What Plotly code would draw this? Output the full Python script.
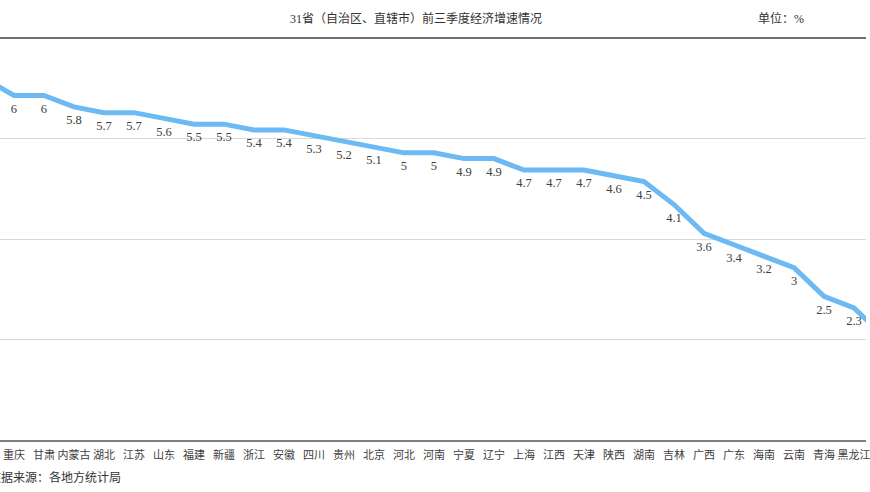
import plotly.graph_objects as go

provinces = ["西藏", "重庆", "甘肃", "内蒙古", "湖北", "江苏", "山东", "福建", "新疆", "浙江", "安徽",
             "四川", "贵州", "北京", "河北", "河南", "宁夏", "辽宁", "上海", "江西", "天津",
             "陕西", "湖南", "吉林", "广西", "广东", "海南", "云南", "青海", "黑龙江", "山西"]
growth = [6.3, 6.0, 6.0, 5.8, 5.7, 5.7, 5.6, 5.5, 5.5, 5.4, 5.4,
          5.3, 5.2, 5.1, 5.0, 5.0, 4.9, 4.9, 4.7, 4.7, 4.7,
          4.6, 4.5, 4.1, 3.6, 3.4, 3.2, 3.0, 2.5, 2.3, 1.8]
labels = [f"{v:g}" for v in growth]

title_text = "31省（自治区、直辖市）前三季度经济增速情况"
unit_text = "单位：%"
source_text = "数据来源：各地方统计局"

num_font = "Liberation Serif, Times New Roman, serif"
cjk_font = "Liberation Serif, Noto Sans CJK SC, serif"

fig = go.Figure()
fig.add_trace(go.Scatter(
    x=provinces, y=growth, mode="lines+markers+text",
    line=dict(color="#6cb9f3", width=5),
    marker=dict(size=11, color="rgba(0,0,0,0)"),
    text=labels, textposition="bottom center",
    textfont=dict(family=num_font, size=12.5, color="#404040"),
    cliponaxis=True, hoverinfo="skip", showlegend=False,
))

fig.update_layout(
    width=870, height=492,
    margin=dict(l=0, r=0, t=38, b=52),
    paper_bgcolor="white", plot_bgcolor="white",
    xaxis=dict(type="category", range=[0.535, 29.40], showgrid=False,
               showline=True, linecolor="#7f7f7f", linewidth=2,
               ticks="", ticklabelstandoff=4,
               tickfont=dict(family=cjk_font, size=11, color="#404040")),
    yaxis=dict(range=[0, 7], tickvals=[0, 1.75, 3.5, 5.25, 7], showticklabels=False,
               showgrid=True, gridcolor="#d9d9d9", gridwidth=1, zeroline=False,
               showline=False),
    shapes=[dict(type="line", xref="paper", yref="paper", x0=0, x1=1, y0=1, y1=1,
                 line=dict(color="#6e6e6e", width=2))],
    annotations=[
        dict(text=title_text, xref="paper", yref="paper", x=418/870, y=1, yshift=20,
             xanchor="center", yanchor="middle", showarrow=False,
             font=dict(family=cjk_font, size=12, color="#333333")),
        dict(text=unit_text, xref="paper", yref="paper", x=785/870, y=1, yshift=20,
             xanchor="center", yanchor="middle", showarrow=False,
             font=dict(family=cjk_font, size=12, color="#333333")),
        dict(text=source_text, xref="paper", yref="paper", x=-13/870, y=0, yshift=-37,
             xanchor="left", yanchor="middle", showarrow=False,
             font=dict(family=cjk_font, size=12, color="#333333")),
    ],
)

fig.write_html("out.html")
